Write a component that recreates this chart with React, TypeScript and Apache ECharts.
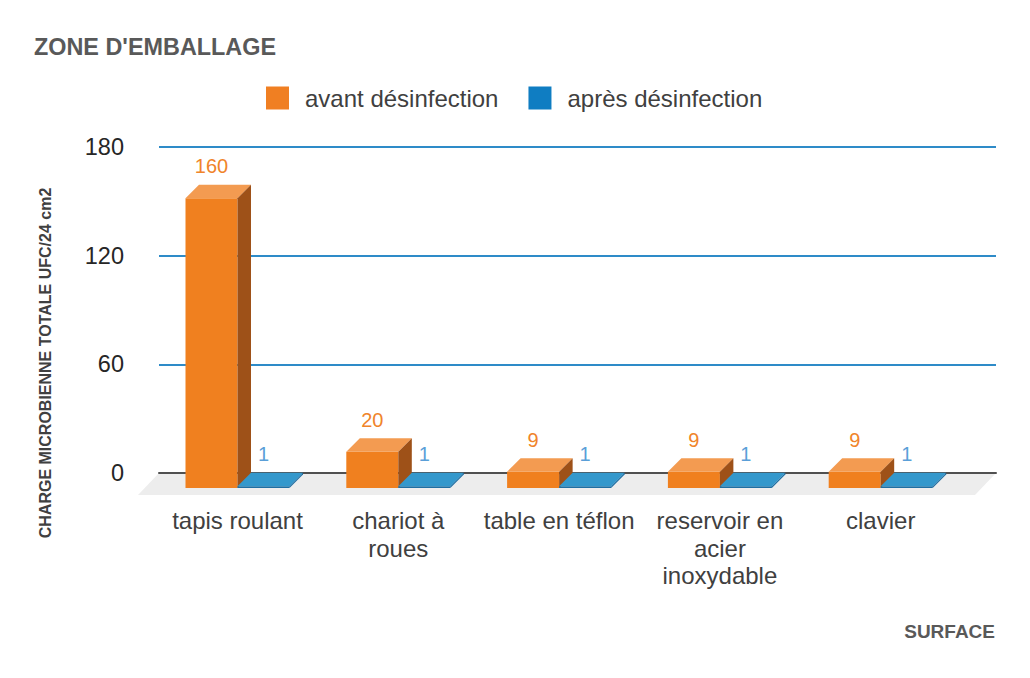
import React, { useEffect, useRef } from "react";
import * as echarts from "echarts";

const categories = [
  "tapis roulant",
  "chariot à\nroues",
  "table en téflon",
  "reservoir en\nacier\ninoxydable",
  "clavier",
];
const avantDesinfection = [160, 20, 9, 9, 9];
const apresDesinfection = [1, 1, 1, 1, 1];
const seriesNames = ["avant désinfection", "après désinfection"];
const yMin = 0;
const yMax = 180;
const yInterval = 60;

const FONT = "'Liberation Sans', Arial, sans-serif";

const orangePal = { front: "#F0801F", top: "#F39B51", side: "#9E5118", label: "#F0842A", legend: "#F07F22" };
const bluePal = { front: "#1F6FA3", top: "#3498CC", side: "#1F6FA3", label: "#5A9FD8", legend: "#0F7DC2" };

const DEPTH = 13.5;

function makeBarRender(side: number, pal: any) {
  return (params: any, api: any) => {
    const idx = api.value(0);
    const val = api.value(1);
    const base = api.coord([idx, 0]);
    const top = api.coord([idx, val]);
    const band = api.size([1, 0])[0];
    const w = band * 0.3234;
    const cx = base[0];
    const x0 = side < 0 ? cx - w : cx;
    const x1 = x0 + w;
    const y0 = base[1];
    const y1 = top[1];
    const d = DEPTH;
    return {
      type: "group",
      children: [
        { type: "rect", shape: { x: x0, y: y1, width: w, height: Math.max(y0 - y1, 0.5) }, style: { fill: pal.front } },
        {
          type: "polygon",
          shape: { points: [[x0, y1], [x1, y1], [x1 + d, y1 - d], [x0 + d, y1 - d]] },
          style: { fill: pal.top },
        },
        {
          type: "polygon",
          shape: { points: [[x1, y1], [x1 + d, y1 - d], [x1 + d, y0 - d], [x1, y0]] },
          style: { fill: pal.side },
        },
        {
          type: "text",
          x: x0 + w / 2,
          y: y1 - d - 18.5,
          style: {
            text: String(val),
            fill: pal.label,
            fontSize: 20,
            fontFamily: FONT,
            align: "center",
            verticalAlign: "middle",
          },
        },
      ],
    };
  };
}

function floorRender(params: any) {
  const cs = params.coordSys;
  const yb = cs.y + cs.height;
  return {
    type: "polygon",
    shape: {
      points: [
        [cs.x, yb],
        [cs.x + cs.width, yb],
        [cs.x + cs.width - 21, yb + 22],
        [cs.x - 21, yb + 22],
      ],
    },
    style: { fill: "#EDEDED" },
  };
}

export default function App() {
  const ref = useRef<HTMLDivElement>(null);
  useEffect(() => {
    if (!ref.current) return;
    const chart = echarts.init(ref.current, undefined, { renderer: "svg" });
    chart.setOption({
      animation: false,
      backgroundColor: "#ffffff",
      textStyle: { fontFamily: FONT },
      title: {
        text: "ZONE D'EMBALLAGE",
        left: 34,
        top: 35,
        padding: 0,
        textStyle: { fontSize: 23.4, fontWeight: "bold", color: "#595959", fontFamily: FONT },
      },
      legend: {
        data: [
          { name: seriesNames[0], icon: "rect", itemStyle: { color: orangePal.legend } },
          { name: seriesNames[1], icon: "rect", itemStyle: { color: bluePal.legend } },
        ],
        left: 266,
        top: 86,
        itemWidth: 23,
        itemHeight: 23,
        itemGap: 30,
        padding: 0,
        selectedMode: false,
        textStyle: { fontSize: 24, color: "#404040", fontFamily: FONT, padding: [0, 0, 0, 11] },
      },
      grid: [
        { left: 157.1, right: 68.9, top: 162, bottom: 190 },
        { left: 159, right: 34, top: 147, bottom: 205 },
      ],
      xAxis: [
        {
          type: "category",
          gridIndex: 0,
          data: categories,
          axisLine: { show: false },
          axisTick: { show: false },
          axisLabel: {
            interval: 0,
            fontSize: 24,
            lineHeight: 27.5,
            color: "#404040",
            margin: 19,
            fontFamily: FONT,
          },
        },
        {
          type: "category",
          gridIndex: 1,
          data: categories,
          z: 2,
          axisLine: { show: true, lineStyle: { color: "#505050", width: 2 } },
          axisTick: { show: false },
          axisLabel: { show: false },
        },
      ],
      yAxis: [
        { type: "value", gridIndex: 0, min: yMin, max: yMax, interval: yInterval, show: false },
        {
          type: "value",
          gridIndex: 1,
          min: yMin,
          max: yMax,
          interval: yInterval,
          axisLine: { show: false },
          axisTick: { show: false },
          axisLabel: { fontSize: 23.5, color: "#262626", margin: 35, fontFamily: FONT },
          splitLine: { show: true, lineStyle: { color: "#2E8BC8", width: 2 } },
        },
      ],
      graphic: [
        {
          type: "text",
          x: 45,
          y: 363,
          rotation: Math.PI / 2,
          style: {
            text: "CHARGE MICROBIENNE TOTALE UFC/24 cm2",
            fontSize: 16,
            fontWeight: "bold",
            fill: "#404040",
            fontFamily: FONT,
            align: "center",
            verticalAlign: "middle",
          },
        },
        {
          type: "text",
          x: 995,
          y: 631,
          style: {
            text: "SURFACE",
            fontSize: 19,
            fontWeight: "bold",
            fill: "#595959",
            fontFamily: FONT,
            align: "right",
            verticalAlign: "middle",
          },
        },
      ],
      series: [
        {
          type: "custom",
          xAxisIndex: 1,
          yAxisIndex: 1,
          z: 1,
          silent: true,
          data: [[0, 0]],
          renderItem: floorRender,
        },
        {
          type: "custom",
          name: seriesNames[0],
          xAxisIndex: 0,
          yAxisIndex: 0,
          z: 3,
          itemStyle: { color: orangePal.legend },
          encode: { x: 0, y: 1 },
          data: avantDesinfection.map((v, i) => [i, v]),
          renderItem: makeBarRender(-1, orangePal),
        },
        {
          type: "custom",
          name: seriesNames[1],
          xAxisIndex: 0,
          yAxisIndex: 0,
          z: 4,
          itemStyle: { color: bluePal.legend },
          encode: { x: 0, y: 1 },
          data: apresDesinfection.map((v, i) => [i, v]),
          renderItem: makeBarRender(1, bluePal),
        },
      ],
    });
    return () => chart.dispose();
  }, []);
  return (
    <div
      ref={ref}
      style={{ position: "fixed", left: 0, top: 0, width: 1030, height: 678, background: "#fff" }}
    />
  );
}
